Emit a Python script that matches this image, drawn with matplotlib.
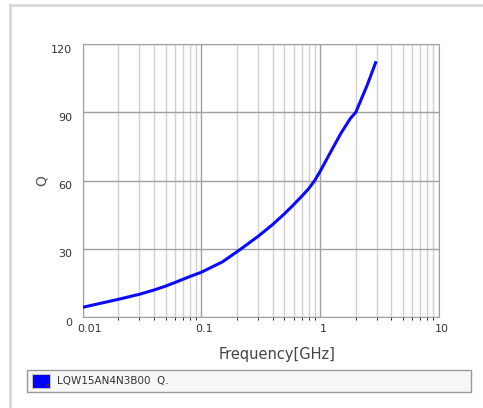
import matplotlib
matplotlib.use("Agg")
import matplotlib.pyplot as plt
import matplotlib.transforms as mtransforms
from matplotlib.patches import Rectangle, Polygon

freq = [0.01, 0.02, 0.03, 0.04, 0.05, 0.06, 0.07, 0.08, 0.1, 0.15, 0.2, 0.3,
        0.4, 0.5, 0.6, 0.7, 0.8, 0.9, 1.0, 1.2, 1.5, 1.8, 2.0, 2.5, 2.94]
q = [4.4, 7.9, 10.1, 12.0, 13.7, 15.3, 16.7, 17.9, 19.8, 24.3, 28.8, 35.5,
     40.8, 45.4, 49.5, 53.1, 56.4, 60.0, 64.0, 71.6, 80.8, 87.3, 90.0, 102.0, 111.8]
xticks = [0.01, 0.1, 1, 10]
xticklabels = ["0.01", "0.1", "1", "10"]
yticks = [0, 30, 60, 90, 120]
legend_label = "LQW15AN4N3B00  Q."

fig = plt.figure(figsize=(4.83, 4.08), dpi=100)
fig.patch.set_facecolor("white")

# outer frame lines of the page
fig.add_artist(plt.Line2D([10/483, 1], [1-5/408, 1-5/408], color="#d8d8d8", lw=2))
fig.add_artist(plt.Line2D([10/483, 10/483], [0, 1-5/408], color="#d8d8d8", lw=2))

ax = fig.add_axes([82.7/483, 1-317.3/408, 356/483, 273.3/408])
ax.plot(freq, q, color="#0a0aff", lw=2.2, zorder=3)
ax.set_xscale("log")
ax.set_xlim(0.01, 10)
ax.set_ylim(0, 120)

ax.set_xticks(xticks)
ax.set_xticklabels(xticklabels)
ax.set_yticks(yticks)
ax.tick_params(length=0, labelsize=8, colors="#333333", pad=5)
ax.tick_params(axis="y", pad=7.5)

ax.grid(True, which="major", color="#a0a0a0", lw=1.0)
ax.grid(True, which="minor", axis="x", color="#d0d0d0", lw=1.0)
for s in ax.spines.values():
    s.set_color("#a0a0a0")

# nudge tick labels like the original renderer does
yoff = mtransforms.ScaledTranslation(0, -4.5/100, fig.dpi_scale_trans)
for lab in ax.get_yticklabels():
    lab.set_transform(lab.get_transform() + yoff)
xlabs = ax.get_xticklabels()
for i, lab in enumerate(xlabs):
    dx = 7 if i == 0 else 3
    lab.set_transform(lab.get_transform() +
                      mtransforms.ScaledTranslation(dx/100, 0, fig.dpi_scale_trans))

ax.set_ylabel("Q", fontsize=10, color="#555555", labelpad=2)
ax.set_xlabel("Frequency[GHz]", fontsize=10.5, color="#444444")
ax.xaxis.set_label_coords(0.545, -0.11)

# legend strip
fig.add_artist(Rectangle((27/483, 1-392/408), 444/483, 22/408,
                         facecolor="#f7f7f7", edgecolor="#9a9a9a", lw=1))
fig.add_artist(Rectangle((32/483, 1-388/408), 18/483, 14/408,
                         facecolor="#0000ff", edgecolor="#c0c0c0", lw=0.8))
fig.add_artist(Polygon([(46/483, 1-384/408), (50/483, 1-384/408), (48/483, 1-387/408)],
                       closed=True, facecolor="#333333", edgecolor="none"))
fig.text(57/483, 1-381/408, legend_label, fontsize=7.5, color="#333333", va="center")

fig.savefig("out.png", dpi=100)
